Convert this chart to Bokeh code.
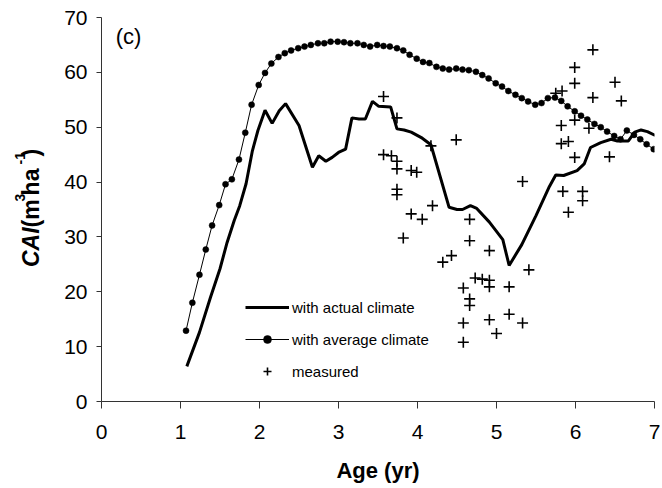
import math
from bokeh.plotting import figure
from bokeh.layouts import row
from bokeh.models import Range1d, FixedTicker, Label, Legend, LegendItem
from bokeh.embed import file_html
from bokeh.resources import INLINE

# ---- data -------------------------------------------------------------
avg_age = [1.07, 1.15, 1.24, 1.32, 1.40, 1.49, 1.57, 1.65, 1.74, 1.82, 1.90, 1.99,
           2.07, 2.15, 2.24, 2.32, 2.40, 2.49, 2.57, 2.65, 2.74, 2.82, 2.90, 2.99,
           3.07, 3.15, 3.24, 3.32, 3.40, 3.49, 3.57, 3.65, 3.74, 3.82, 3.90, 3.99,
           4.07, 4.15, 4.24, 4.32, 4.40, 4.49, 4.57, 4.65, 4.74, 4.82, 4.90, 4.99,
           5.07, 5.15, 5.24, 5.32, 5.40, 5.49, 5.57, 5.65, 5.74, 5.82, 5.90, 5.99,
           6.07, 6.15, 6.24, 6.32, 6.40, 6.49, 6.57, 6.65, 6.74, 6.82, 6.90, 6.99]
avg_cai = [12.9, 18.0, 23.1, 27.7, 32.1, 35.8, 39.6, 40.5, 44.1, 49.0, 54.1, 57.7,
           59.9, 61.6, 62.8, 63.5, 64.0, 64.4, 64.7, 65.0, 65.3, 65.3, 65.6, 65.6,
           65.5, 65.3, 65.3, 65.0, 64.7, 65.0, 64.8, 64.7, 64.4, 64.0, 63.2, 62.5,
           61.9, 61.7, 61.0, 60.7, 60.5, 60.7, 60.5, 60.4, 60.1, 59.5, 58.9, 58.0,
           57.4, 56.6, 55.9, 55.3, 54.7, 54.1, 54.4, 55.3, 55.4, 54.8, 53.8, 52.9,
           52.1, 51.4, 50.6, 50.0, 49.2, 48.4, 47.8, 49.4, 48.6, 47.8, 46.9, 46.0]

act_age = [1.08, 1.24, 1.38, 1.50, 1.59, 1.68, 1.75, 1.83, 1.91, 1.98, 2.07, 2.16,
           2.25, 2.33, 2.50, 2.67, 2.75, 2.84, 2.92, 3.00, 3.09, 3.17, 3.26, 3.34,
           3.43, 3.51, 3.66, 3.74, 3.83, 3.92, 4.06, 4.17, 4.40, 4.50, 4.57, 4.67,
           4.75, 4.91, 5.08, 5.16, 5.32, 5.50, 5.67, 5.75, 5.85, 6.02, 6.11, 6.19,
           6.32, 6.45, 6.53, 6.67, 6.75, 6.83, 6.91, 7.01]
act_cai = [6.4, 12.6, 19.0, 24.2, 29.0, 33.0, 35.7, 39.7, 45.7, 49.4, 53.1, 50.7,
           53.0, 54.3, 50.3, 42.7, 44.8, 43.8, 44.5, 45.4, 46.0, 51.7, 51.5, 51.5,
           54.7, 53.8, 53.7, 49.7, 49.5, 49.1, 48.0, 46.8, 35.4, 35.0, 35.0, 35.7,
           35.2, 32.7, 29.5, 24.8, 28.6, 33.9, 39.2, 41.3, 41.2, 42.1, 43.3, 46.3,
           47.2, 47.8, 47.5, 47.5, 49.1, 49.5, 49.2, 48.5]

meas_age = [3.57, 3.74, 4.17, 4.49, 3.57, 3.67, 3.74, 3.74, 3.92, 3.99, 3.74, 3.74,
            4.19, 3.92, 4.06, 3.82, 4.32, 4.43, 4.66, 4.66, 4.91, 5.33, 5.41, 4.73,
            4.82, 4.91, 4.91, 5.16, 4.58, 4.66, 4.66, 4.58, 4.91, 5.16, 5.33, 5.00,
            4.58, 6.22, 5.99, 5.99, 6.50, 5.75, 5.83, 6.22, 6.58, 5.99, 5.82, 6.17,
            5.82, 5.91, 5.99, 6.43, 5.84, 6.09, 6.09, 5.91]
meas_cai = [55.6, 51.7, 46.6, 47.7, 45.0, 44.8, 43.8, 42.4, 42.1, 41.8, 38.7, 37.7,
            35.7, 34.2, 33.2, 29.8, 25.4, 26.6, 33.2, 29.3, 27.5, 40.1, 24.0, 22.5,
            22.3, 22.1, 20.9, 20.9, 20.7, 18.7, 17.5, 14.3, 14.9, 15.9, 14.3, 12.4,
            10.8, 64.1, 60.9, 58.0, 58.2, 56.2, 56.6, 55.4, 54.8, 51.3, 50.3, 49.8,
            47.0, 47.4, 44.5, 44.6, 38.3, 38.3, 36.6, 34.5]

x_ticks = [0, 1, 2, 3, 4, 5, 6, 7]
y_ticks = [0, 10, 20, 30, 40, 50, 60, 70]
series_labels = ["with actual climate", "with average climate", "measured"]
x_title = "Age (yr)"
y_title_parts = ["CAI", "(m", "3", " ha", "-1", ")"]

FONT = "Liberation Sans"
H = 488
LW = 60            # width of the strip that holds the vertical y-axis title
FRAME_TOP = 17
FRAME_BOTTOM = 401

# ---- y-axis title strip (its frame is aligned with the chart's frame) ----
t = figure(width=LW, height=H, output_backend="svg", toolbar_location=None,
           x_range=Range1d(0, LW), y_range=Range1d(H - FRAME_BOTTOM, H - FRAME_TOP),
           x_axis_type=None, y_axis_type=None,
           min_border_left=0, min_border_right=0, min_border_top=FRAME_TOP,
           min_border_bottom=H - FRAME_BOTTOM)
t.outline_line_color = None
t.xgrid.grid_line_color = None
t.ygrid.grid_line_color = None
t.background_fill_color = "white"
t.border_fill_color = "white"

ang = math.pi / 2
main_c = 30.5
sup_c = 19.5
styles = [("23px", "bold italic", main_c, 39.6),
          ("23px", "bold", main_c, 26.0),
          ("14px", "bold", sup_c, 6.0),
          ("23px", "bold", main_c, 31.0),
          ("14px", "bold", sup_c, 8.0),
          ("23px", "bold", main_c, 8.0)]
yy = H - 266.5
for txt, (fs, style, cx, adv) in zip(y_title_parts, styles):
    t.add_layout(Label(x=cx, y=yy, text=txt, angle=ang, text_font=FONT,
                       text_font_size=fs, text_font_style=style,
                       text_align="left", text_baseline="middle",
                       text_color="black"))
    yy += adv

# ---- main chart ---------------------------------------------------------
p = figure(width=660 - LW, height=H, output_backend="svg", toolbar_location=None,
           x_range=Range1d(0, 7), y_range=Range1d(0, 70),
           min_border_left=101 - LW, min_border_right=6, min_border_top=FRAME_TOP,
           min_border_bottom=H - FRAME_BOTTOM)
p.outline_line_color = None
p.xgrid.grid_line_color = None
p.ygrid.grid_line_color = None
p.background_fill_color = "white"
p.border_fill_color = "white"

for ax, ticks in ((p.xaxis[0], x_ticks), (p.yaxis[0], y_ticks)):
    ax.ticker = FixedTicker(ticks=ticks)
    ax.axis_line_color = "#333333"
    ax.major_tick_line_color = "#333333"
    ax.minor_tick_line_color = None
    ax.major_tick_in = 0
    ax.major_label_text_font = FONT
    ax.major_label_text_font_size = "21px"
    ax.major_label_text_color = "black"

p.xaxis.major_tick_out = 7
p.xaxis.major_label_standoff = 16
p.xaxis.axis_label = x_title
p.xaxis.axis_label_text_font = FONT
p.xaxis.axis_label_text_font_size = "22px"
p.xaxis.axis_label_text_font_style = "bold"
p.xaxis.axis_label_text_color = "black"
p.xaxis.axis_label_standoff = 16

p.yaxis.major_tick_out = 5
p.yaxis.major_label_standoff = 9

r_act = p.line(act_age, act_cai, line_color="black", line_width=3)
r_avg_line = p.line(avg_age, avg_cai, line_color="black", line_width=1)
r_avg_pts = p.scatter(avg_age, avg_cai, marker="circle", size=6,
                      fill_color="black", line_color="black", line_width=0.5)
r_meas = p.scatter(meas_age, meas_cai, marker="cross", size=11,
                   line_color="black", line_width=1.6)

legend = Legend(items=[
    LegendItem(label=series_labels[0], renderers=[r_act]),
    LegendItem(label=series_labels[1], renderers=[r_avg_line, r_avg_pts]),
    LegendItem(label=series_labels[2], renderers=[r_meas]),
], location=(144, 20), orientation="vertical")
legend.border_line_color = None
legend.background_fill_alpha = 0
legend.padding = 0
legend.margin = 0
legend.spacing = 12
legend.glyph_width = 44
legend.glyph_height = 20
legend.label_height = 20
legend.label_standoff = 3
legend.label_text_font = FONT
legend.label_text_font_size = "15px"
legend.label_text_color = "black"
p.add_layout(legend, "center")

p.add_layout(Label(x=0.18, y=66.5, text="(c)", text_font=FONT,
                   text_font_size="22px", text_baseline="middle",
                   text_align="left", text_color="black"))

layout = row(t, p, spacing=0)
open("out.html", "w").write(file_html(layout, INLINE))
